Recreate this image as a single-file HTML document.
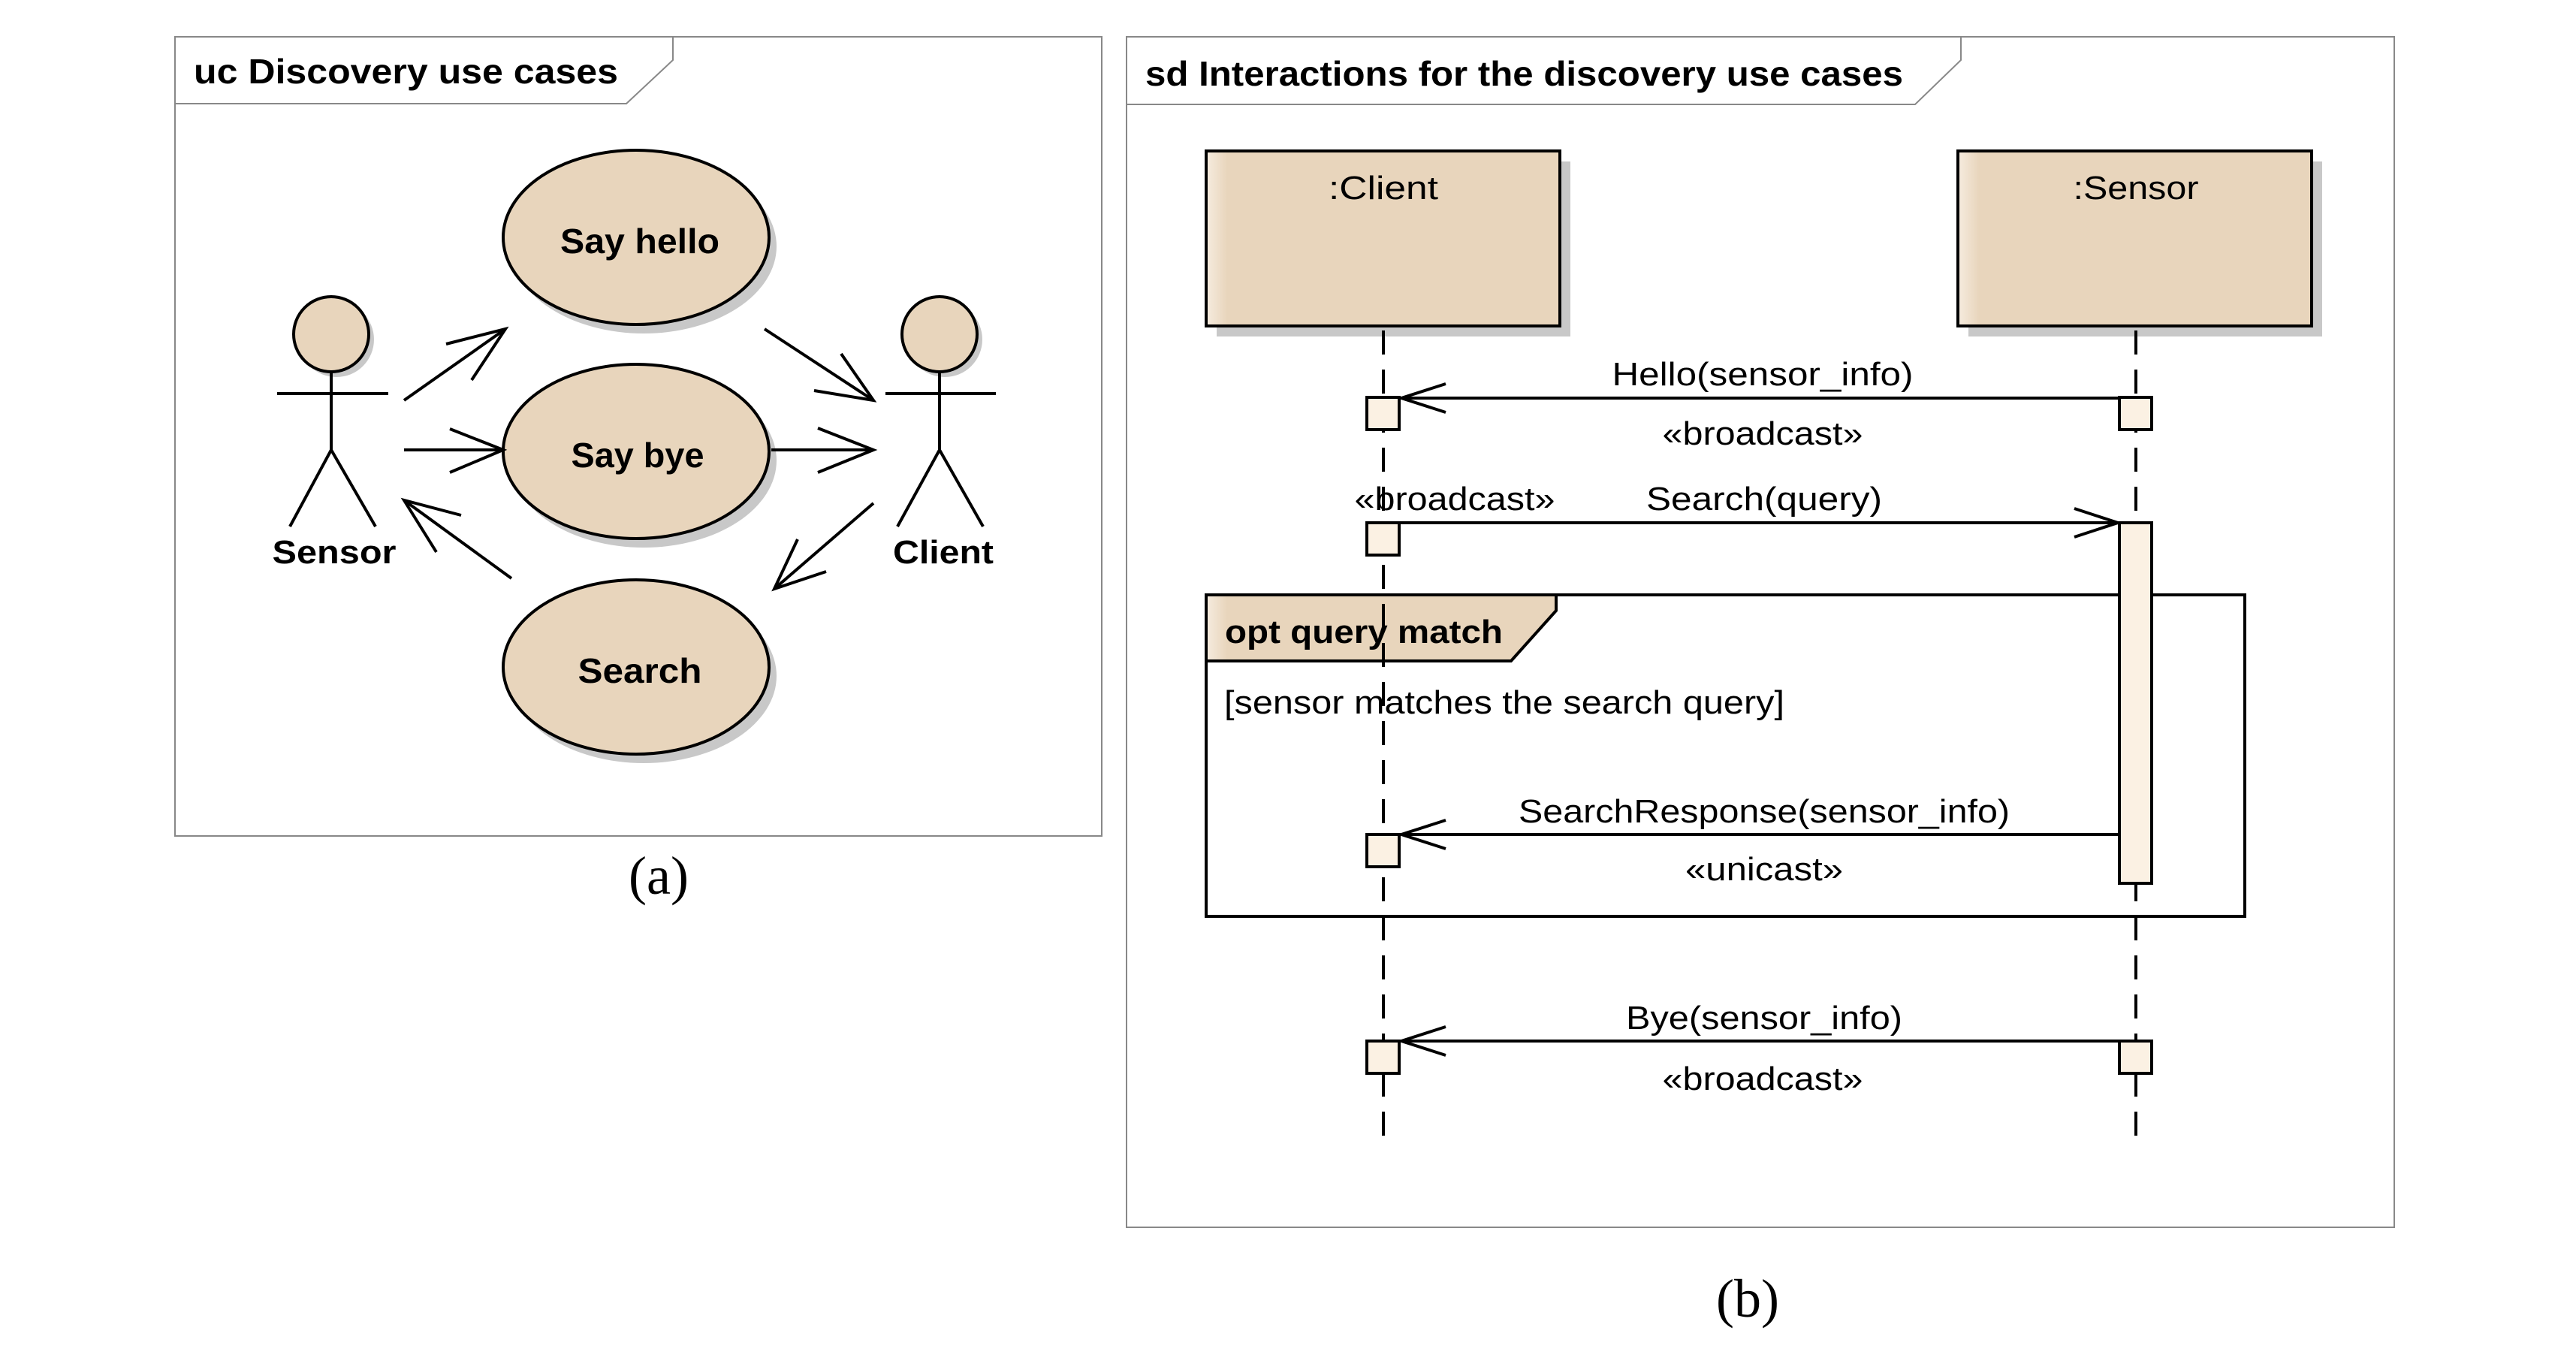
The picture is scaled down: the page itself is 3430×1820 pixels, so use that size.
<!DOCTYPE html>
<html><head><meta charset="utf-8"><style>
html,body{margin:0;padding:0;background:#fff;}
svg{display:block;}
text{font-family:"Liberation Sans",Arial,sans-serif;fill:#000;}
.b{font-weight:bold;}
</style></head><body>
<svg width="3430" height="1820" viewBox="0 0 3430 1820" xmlns="http://www.w3.org/2000/svg">
<defs>
<linearGradient id="g1" x1="0" x2="1" y1="0" y2="0">
<stop offset="0" stop-color="#f6ecdf"/><stop offset="0.06" stop-color="#e8d5bc"/><stop offset="1" stop-color="#e8d5bc"/>
</linearGradient>
</defs>
<!-- (a) frame -->
<rect x="233" y="49" width="1234" height="1064" fill="#fff" stroke="#888" stroke-width="2"/>
<path d="M233,138 L834,138 L896,80 L896,49" fill="none" stroke="#888" stroke-width="2"/>
<text x="258" y="111" font-size="46" class="b" textLength="565" lengthAdjust="spacingAndGlyphs">uc Discovery use cases</text>

<!-- ellipses -->
<g>
<ellipse cx="857" cy="328" rx="177" ry="116" fill="#c8c8c8"/>
<ellipse cx="847" cy="316" rx="177" ry="116" fill="#e8d5bc" stroke="#000" stroke-width="4"/>
<ellipse cx="857" cy="613" rx="177" ry="116" fill="#c8c8c8"/>
<ellipse cx="847" cy="601" rx="177" ry="116" fill="#e8d5bc" stroke="#000" stroke-width="4"/>
<ellipse cx="857" cy="900" rx="177" ry="116" fill="#c8c8c8"/>
<ellipse cx="847" cy="888" rx="177" ry="116" fill="#e8d5bc" stroke="#000" stroke-width="4"/>
</g>
<text x="852" y="337" font-size="46" class="b" text-anchor="middle" textLength="212" lengthAdjust="spacingAndGlyphs">Say hello</text>
<text x="849" y="622" font-size="46" class="b" text-anchor="middle" textLength="177" lengthAdjust="spacingAndGlyphs">Say bye</text>
<text x="852" y="909" font-size="46" class="b" text-anchor="middle" textLength="165" lengthAdjust="spacingAndGlyphs">Search</text>

<!-- actors -->
<g stroke="#000" stroke-width="4" fill="none">
<circle cx="448" cy="452" r="50" fill="#c8c8c8" stroke="none"/>
<circle cx="441" cy="445" r="50" fill="#e8d5bc"/>
<line x1="369" y1="524" x2="517" y2="524"/>
<line x1="441" y1="496" x2="441" y2="599"/>
<polyline points="386,701 441,599 500,701"/>
<circle cx="1258" cy="452" r="50" fill="#c8c8c8" stroke="none"/>
<circle cx="1251" cy="445" r="50" fill="#e8d5bc"/>
<line x1="1179" y1="524" x2="1326" y2="524"/>
<line x1="1251" y1="496" x2="1251" y2="599"/>
<polyline points="1195,701 1251,599 1309,701"/>
</g>
<text x="445" y="750" font-size="44" class="b" text-anchor="middle" textLength="165" lengthAdjust="spacingAndGlyphs">Sensor</text>
<text x="1256" y="750" font-size="44" class="b" text-anchor="middle" textLength="134" lengthAdjust="spacingAndGlyphs">Client</text>

<!-- use case arrows -->
<g stroke="#000" stroke-width="4" fill="none">
<line x1="538" y1="533" x2="673" y2="438"/><polyline points="594,458 673,438 628,506"/>
<line x1="538" y1="599" x2="670" y2="599"/><polyline points="599,571 670,599 599,629"/>
<line x1="681" y1="770" x2="538" y2="666"/><polyline points="614,686 538,666 581,735"/>
<line x1="1018" y1="438" x2="1163" y2="533"/><polyline points="1120,471 1163,533 1084,520"/>
<line x1="1027" y1="599" x2="1163" y2="599"/><polyline points="1089,570 1163,599 1089,629"/>
<line x1="1163" y1="670" x2="1031" y2="784"/><polyline points="1062,718 1031,784 1100,761"/>
</g>
<text x="877" y="1190" font-size="72" font-family="Liberation Serif" text-anchor="middle" style="font-family:'Liberation Serif',serif">(a)</text>

<!-- (b) frame -->
<rect x="1500" y="49" width="1688" height="1585" fill="#fff" stroke="#888" stroke-width="2"/>
<path d="M1500,139 L2550,139 L2611,80 L2611,49" fill="none" stroke="#888" stroke-width="2"/>
<text x="1525" y="114" font-size="46" class="b" textLength="1009" lengthAdjust="spacingAndGlyphs">sd Interactions for the discovery use cases</text>

<!-- lifeline heads -->
<rect x="1620" y="215" width="471" height="233" fill="#c8c8c8"/>
<rect x="1606" y="201" width="471" height="233" fill="url(#g1)" stroke="#000" stroke-width="4"/>
<rect x="2621" y="215" width="471" height="233" fill="#c8c8c8"/>
<rect x="2607" y="201" width="471" height="233" fill="url(#g1)" stroke="#000" stroke-width="4"/>
<text x="1842" y="265" font-size="44" text-anchor="middle" textLength="146" lengthAdjust="spacingAndGlyphs">:Client</text>
<text x="2844" y="265" font-size="44" text-anchor="middle" textLength="167" lengthAdjust="spacingAndGlyphs">:Sensor</text>

<!-- opt frame (below lifelines) -->
<rect x="1606" y="792" width="1383" height="428" fill="none" stroke="#000" stroke-width="4"/>
<path d="M1606,792 L2072,792 L2072,813 L2012,880 L1606,880 Z" fill="url(#g1)" stroke="#000" stroke-width="4"/>
<text x="1631" y="856" font-size="44" class="b" textLength="370" lengthAdjust="spacingAndGlyphs">opt query match</text>
<text x="1630" y="950" font-size="44" textLength="746" lengthAdjust="spacingAndGlyphs">[sensor matches the search query]</text>

<!-- lifelines -->
<g stroke="#000" stroke-width="4" stroke-dasharray="32,20">
<line x1="1842" y1="440" x2="1842" y2="1518"/>
<line x1="2844" y1="440" x2="2844" y2="1518"/>
</g>

<!-- activations -->
<g fill="#fbf1e3" stroke="#000" stroke-width="4">
<rect x="1820" y="529" width="43" height="43"/>
<rect x="2822" y="529" width="43" height="43"/>
<rect x="1820" y="696" width="43" height="43"/>
<rect x="2822" y="696" width="43" height="480"/>
<rect x="1820" y="1111" width="43" height="43"/>
<rect x="1820" y="1386" width="43" height="43"/>
<rect x="2822" y="1386" width="43" height="43"/>
</g>

<!-- messages -->
<g stroke="#000" stroke-width="4" fill="none">
<line x1="1866" y1="530" x2="2822" y2="530"/><polyline points="1925,511 1866,530 1925,549"/>
<line x1="1863" y1="696" x2="2820" y2="696"/><polyline points="2762,677 2820,696 2762,715"/>
<line x1="1866" y1="1111" x2="2822" y2="1111"/><polyline points="1925,1092 1866,1111 1925,1130"/>
<line x1="1866" y1="1386" x2="2822" y2="1386"/><polyline points="1925,1367 1866,1386 1925,1405"/>
</g>
<text x="2347" y="513" font-size="44" text-anchor="middle" textLength="401" lengthAdjust="spacingAndGlyphs">Hello(sensor_info)</text>
<text x="2347" y="592" font-size="44" text-anchor="middle" textLength="267" lengthAdjust="spacingAndGlyphs">«broadcast»</text>
<text x="1937" y="679" font-size="44" text-anchor="middle" textLength="267" lengthAdjust="spacingAndGlyphs">«broadcast»</text>
<text x="2349" y="679" font-size="44" text-anchor="middle" textLength="314" lengthAdjust="spacingAndGlyphs">Search(query)</text>
<text x="2349" y="1095" font-size="44" text-anchor="middle" textLength="654" lengthAdjust="spacingAndGlyphs">SearchResponse(sensor_info)</text>
<text x="2349" y="1172" font-size="44" text-anchor="middle" textLength="210" lengthAdjust="spacingAndGlyphs">«unicast»</text>
<text x="2349" y="1370" font-size="44" text-anchor="middle" textLength="368" lengthAdjust="spacingAndGlyphs">Bye(sensor_info)</text>
<text x="2347" y="1451" font-size="44" text-anchor="middle" textLength="267" lengthAdjust="spacingAndGlyphs">«broadcast»</text>

<text x="2327" y="1753" font-size="72" text-anchor="middle" style="font-family:'Liberation Serif',serif">(b)</text>
</svg>
</body></html>
